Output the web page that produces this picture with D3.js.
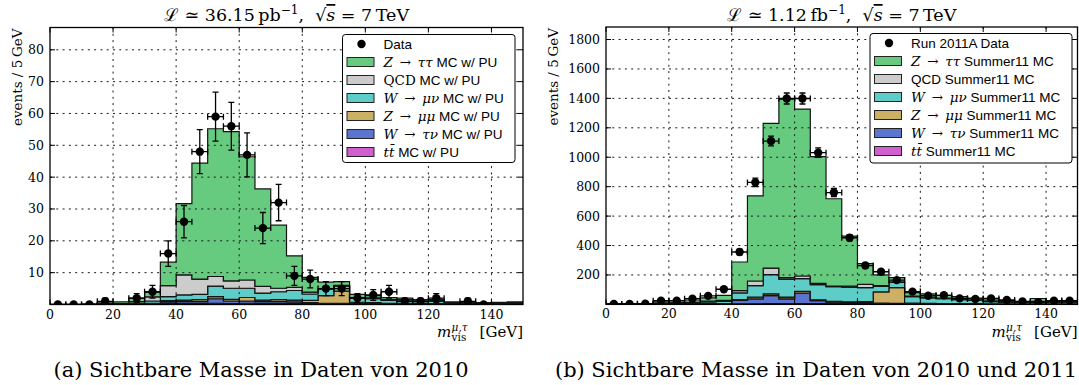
<!DOCTYPE html>
<html lang="de">
<head>
<meta charset="UTF-8">
<title>Sichtbare Masse m_vis</title>
<script src="https://d3js.org/d3.v7.min.js"></script>
<style>
  body { margin: 0; background: #fff; }
  svg { display: block; }
  text { font-family: "DejaVu Serif", serif; fill: #000; }
  .sans { font-family: "Liberation Sans", Arial, sans-serif; }
  .grid line { stroke: #1a1a1a; stroke-width: 1; stroke-dasharray: 2 4.3; }
  .frame { fill: none; stroke: #000; stroke-width: 1.3; }
  .layer { stroke: #141414; stroke-width: 1.2; }
  .err { stroke: #000; stroke-width: 1.3; fill: none; }
</style>
</head>
<body>
<svg width="1079" height="385"></svg>
<script>
// 5 GeV bins from 0 to 150
const binEdges = d3.range(0, 155, 5);
const xTicks = [0, 20, 40, 60, 80, 100, 120, 140];

// ---- 2010 (36.15 pb^-1) ----
const yTicks2010 = [10, 20, 30, 40, 50, 60, 70, 80];
const data2010 = [0, 0, 0, 1, null, 2, 4, 16, 26, 48, 59, 56, 47, 24, 32, 9, 8, 5, 5, 2, 3, 4, 1, 1, 2, null, 1, 0, null, null];
const err2010  = [0, 0, 0, 1, null, 1.4, 2, 4, 5.1, 6.9, 7.7, 7.5, 6.9, 4.9, 5.7, 3, 2.8, 2.2, 2.2, 1.4, 1.7, 2, 1, 1, 1.4, null, 1, 0, null, null];
const ttbar2010  = [0, 0, 0, 0, 0, 0, 0.1, 0.3, 0.3, 0.3, 0.4, 0.3, 0.4, 0.3, 0.3, 0.3, 0.2, 0.2, 0.2, 0.1, 0.1, 0.1, 0.1, 0.1, 0.1, 0.1, 0.1, 0.1, 0.1, 0.1];
const wtaunu2010 = [0, 0, 0, 0, 0, 0, 0.1, 0.5, 0.6, 0.6, 1.4, 0.8, 0.7, 0.6, 0.6, 0.5, 0.4, 0.2, 0.2, 0.2, 0.2, 0.1, 0.1, 0.1, 0.1, 0.05, 0.05, 0.05, 0.05, 0.05];
const zmumu2010  = [0, 0, 0, 0, 0, 0.1, 0.2, 0.4, 0.5, 0.6, 0.7, 0.5, 1.1, 0.5, 0.6, 0.6, 0.7, 2.4, 3.8, 0.4, 0.3, 0.2, 0.2, 0.1, 0.1, 0.05, 0.05, 0.05, 0.05, 0.05];
const wmunu2010  = [0, 0, 0.05, 0.1, 0.2, 0.3, 0.7, 1.3, 1.6, 1.7, 3.3, 3.5, 2.9, 2.2, 2.5, 3.0, 2.0, 2.0, 1.6, 1.3, 1.2, 0.9, 0.7, 0.6, 0.7, 0.3, 0.3, 0.2, 0.25, 0.3];
const qcd2010    = [0, 0, 0, 0.1, 0.1, 0.5, 1.3, 3.4, 6.3, 4.8, 3.0, 2.3, 2.6, 2.1, 1.1, 1.0, 0.6, 0.2, 0.2, 0.2, 0.3, 0.3, 0.4, 0.2, 0.2, 0.1, 0.1, 0.05, 0.1, 0.1];
const ztautau2010 = [0.05, 0.05, 0.1, 0.3, 0.5, 1.1, 1.5, 7.4, 22.4, 36.4, 46.4, 46.9, 38.7, 30.6, 19.8, 9.9, 4.6, 2.0, 1.2, 1.0, 0.7, 0.6, 0.5, 0.4, 0.4, 0.2, 0.2, 0.15, 0.15, 0.2];
const legend2010 = ["Data", "$Z → ττ$ MC w/ PU", "$QCD$ MC w/ PU", "$W → μν$ MC w/ PU",
                    "$Z → μμ$ MC w/ PU", "$W → τν$ MC w/ PU", "$tt̄$ MC w/ PU"];

// ---- 2011A (1.12 fb^-1) ----
const yTicks2011 = [200, 400, 600, 800, 1000, 1200, 1400, 1600, 1800];
const data2011 = [3, 3, 5, 25, 25, 39, 58, 103, 356, 829, 1110, 1399, 1399, 1031, 760, 453, 264, 222, 165, 87, 59, 62, 41, 37, 40, 30, 20, 15, 25, 25];
const err2011  = [1.7, 1.7, 2.2, 5, 5, 6.2, 7.6, 10.1, 18.9, 28.8, 33.3, 37.4, 37.4, 32.1, 27.6, 21.3, 16.2, 14.9, 12.8, 9.3, 7.7, 7.9, 6.4, 6.1, 6.3, 5.5, 4.5, 3.9, 5, 5];
const ttbar2011  = [0, 0, 0, 0, 0, 0, 1, 1, 3, 4, 5, 5, 6, 5, 5, 4, 4, 3, 3, 1, 1, 1, 1, 1, 1, 1, 1, 1, 1, 1];
const wtaunu2011 = [0, 0, 0, 1, 1, 1, 2, 3, 25, 33, 55, 33, 70, 20, 10, 8, 7, 5, 4, 3, 3, 2, 2, 2, 1, 1, 1, 1, 1, 1];
const zmumu2011  = [0, 0, 0, 1, 1, 1, 2, 2, 5, 12, 12, 12, 12, 6, 6, 6, 8, 77, 107, 4, 3, 3, 2, 2, 1, 1, 1, 1, 1, 1];
const wmunu2011  = [1, 1, 2, 5, 7, 8, 12, 15, 45, 78, 130, 122, 87, 104, 99, 100, 95, 38, 35, 45, 38, 33, 28, 22, 16, 13, 10, 14, 10, 11];
const qcd2011    = [0, 0, 0, 2, 3, 4, 5, 6, 15, 32, 45, 10, 18, 8, 5, 6, 22, 5, 4, 4, 4, 3, 3, 2, 2, 1, 1, 3, 1, 1];
const ztautau2011 = [1, 2, 3, 9, 13, 16, 23, 35, 195, 579, 983, 1213, 1134, 861, 593, 340, 141, 72, 29, 23, 23, 20, 17, 13, 9, 8, 5, 20, 6, 7];
const legend2011 = ["Run 2011A Data", "$Z → ττ$ Summer11 MC", "QCD Summer11 MC", "$W → μν$ Summer11 MC",
                    "$Z → μμ$ Summer11 MC", "$W → τν$ Summer11 MC", "$tt̄$ Summer11 MC"];

const layerKeys = ["ttbar", "wtaunu", "zmumu", "wmunu", "qcd", "ztautau"];
const layerColors = { ztautau: "#66cb7f", qcd: "#cccccc", wmunu: "#5ecdc8",
                      zmumu: "#cbb066", wtaunu: "#5b74cd", ttbar: "#d05fcf" };

const svg = d3.select("svg");

function richText(sel, str) {
  // "$...$" = math: single letters italic, rest upright
  sel.attr("xml:space", "preserve").style("white-space", "pre");
  str.split("$").forEach((seg, k) => {
    if (!seg) return;
    if (k % 2 === 0) {
      sel.append("tspan").attr("class", "sans").style("font-size", "13.5px").text(seg);
    } else {
      seg.match(/[A-Z]{2,}|\s+|.\u0304?/gu).forEach(tok => {
        const ital = /^[A-Za-zα-ω]\u0304?$/.test(tok);
        sel.append("tspan").style("font-style", ital ? "italic" : "normal")
          .text(tok === " " ? "\u2002" : tok);
      });
    }
  });
}

function drawPanel(p) {
  const g = svg.append("g");
  const x = d3.scaleLinear().domain([0, 150]).range([p.left, p.right]);
  const y = d3.scaleLinear().domain([0, p.ymax]).range([p.bottom, p.top]);

  const clipId = "clip" + p.id;
  svg.append("clipPath").attr("id", clipId).append("rect")
    .attr("x", p.left).attr("y", p.top)
    .attr("width", p.right - p.left).attr("height", p.bottom - p.top);

  // stacked step histograms
  const rows = p.layers.ttbar.map((_, i) => {
    const r = {};
    layerKeys.forEach(k => r[k] = p.layers[k][i]);
    return r;
  });
  const stacked = d3.stack().keys(layerKeys)(rows);
  const area = d3.area()
    .x(d => x(d.e))
    .y0(d => y(d.v[0]))
    .y1(d => y(d.v[1]))
    .curve(d3.curveStepAfter);

  const hist = g.append("g").attr("clip-path", `url(#${clipId})`);
  stacked.forEach(s => {
    const pts = binEdges.map((e, i) => ({ e: e, v: s[Math.min(i, s.length - 1)] }));
    hist.append("path")
      .attr("class", "layer")
      .attr("fill", layerColors[s.key])
      .attr("d", area(pts) + "Z");
  });

  // grid
  const grid = g.append("g").attr("class", "grid");
  xTicks.filter(t => t > 0).forEach(t => {
    grid.append("line").attr("x1", x(t)).attr("x2", x(t)).attr("y1", p.top).attr("y2", p.bottom);
  });
  p.yTicks.forEach(t => {
    grid.append("line").attr("x1", p.left).attr("x2", p.right).attr("y1", y(t)).attr("y2", y(t));
  });

  // ticks (inward, all four sides)
  const ticks = g.append("g").attr("stroke", "#000").attr("stroke-width", 1);
  xTicks.forEach(t => {
    ticks.append("line").attr("x1", x(t)).attr("x2", x(t)).attr("y1", p.bottom).attr("y2", p.bottom - 5);
    ticks.append("line").attr("x1", x(t)).attr("x2", x(t)).attr("y1", p.top).attr("y2", p.top + 5);
    g.append("text").attr("x", x(t)).attr("y", p.bottom + 14)
      .attr("text-anchor", "middle").style("font-size", "12.5px").text(t);
  });
  p.yTicks.forEach(t => {
    ticks.append("line").attr("x1", p.left).attr("x2", p.left + 5).attr("y1", y(t)).attr("y2", y(t));
    ticks.append("line").attr("x1", p.right).attr("x2", p.right - 5).attr("y1", y(t)).attr("y2", y(t));
    g.append("text").attr("x", p.left - 6).attr("y", y(t) + 4.5)
      .attr("text-anchor", "end").style("font-size", "12.5px").text(t);
  });

  // data points with error bars
  const pts = g.append("g").attr("clip-path", `url(#${clipId})`);
  p.data.forEach((n, i) => {
    if (n === null) return;
    const cx = x(binEdges[i] + 2.5), cy = y(n);
    const e = p.err[i];
    const xl = x(binEdges[i]), xr = x(binEdges[i + 1]);
    pts.append("path").attr("class", "err")
      .attr("d", `M${xl},${cy}H${xr}M${xl},${cy - 3}V${cy + 3}M${xr},${cy - 3}V${cy + 3}`);
    if (e > 0) {
      const yt = y(n + e), yb = y(n - e);
      pts.append("path").attr("class", "err")
        .attr("d", `M${cx},${yt}V${yb}M${cx - 3},${yt}H${cx + 3}M${cx - 3},${yb}H${cx + 3}`);
    }
    pts.append("circle").attr("cx", cx).attr("cy", cy).attr("r", 4.2).attr("fill", "#000");
  });

  g.append("rect").attr("class", "frame")
    .attr("x", p.left).attr("y", p.top)
    .attr("width", p.right - p.left).attr("height", p.bottom - p.top);

  // title
  const cx = (p.left + p.right) / 2;
  const t = g.append("text").attr("x", cx).attr("y", 21).attr("text-anchor", "middle")
    .style("font-size", "17.5px").attr("xml:space", "preserve").style("white-space", "pre");
  t.append("tspan").text("ℒ ≃ " + p.lumi + "\u2009" + p.unit);
  t.append("tspan").attr("dy", -7).style("font-size", "12px").text("−1");
  t.append("tspan").attr("dy", 7).text(",  √");
  t.append("tspan").style("font-style", "italic").style("text-decoration", "overline").text("s");
  t.append("tspan").text(" = 7\u2009TeV");

  // y label (top aligned)
  g.append("text")
    .attr("transform", `translate(${p.ylabX},${p.top + 1}) rotate(-90)`)
    .attr("text-anchor", "end").style("font-size", "13.5px")
    .text("events / 5\u2009GeV");

  // x label (right aligned)
  const by = 337;
  const gev = g.append("text").attr("x", p.right).attr("y", by).attr("text-anchor", "end")
    .style("font-size", "15px").text("[GeV]");
  const scriptEnd = p.right - gev.node().getComputedTextLength() - 12;
  const sup = g.append("text").attr("x", scriptEnd).attr("y", by - 6).attr("text-anchor", "end")
    .style("font-size", "10.5px").style("font-style", "italic").text("μ,τ");
  const sub = g.append("text").attr("x", scriptEnd).attr("y", by + 4).attr("text-anchor", "end")
    .style("font-size", "10.5px").text("vis");
  const sw = Math.max(sup.node().getComputedTextLength(), sub.node().getComputedTextLength());
  sup.attr("text-anchor", "start").attr("x", scriptEnd - sw);
  sub.attr("text-anchor", "start").attr("x", scriptEnd - sw);
  g.append("text").attr("x", scriptEnd - sw - 0.5).attr("y", by).attr("text-anchor", "end")
    .style("font-size", "15px").style("font-style", "italic").text("m");

  // legend
  const L = p.legend;
  const lg = g.append("g");
  lg.append("rect").attr("x", L.x).attr("y", L.y).attr("width", L.w).attr("height", L.h)
    .attr("rx", 3).attr("fill", "#fff").attr("stroke", "#000").attr("stroke-width", 1);
  const order = ["data", "ztautau", "qcd", "wmunu", "zmumu", "wtaunu", "ttbar"];
  order.forEach((k, i) => {
    const ry = L.y + 9.5 + i * 18;
    if (k === "data") {
      lg.append("circle").attr("cx", L.x + 19).attr("cy", ry).attr("r", 4.2).attr("fill", "#000");
    } else {
      lg.append("rect").attr("x", L.x + 4.5).attr("y", ry - 4.5).attr("width", 27).attr("height", 9)
        .attr("fill", layerColors[k]).attr("stroke", "#222").attr("stroke-width", 1);
    }
    const tx = lg.append("text").attr("x", L.x + 41).attr("y", ry + 4.5).style("font-size", "13.5px");
    richText(tx, p.legendLabels[i]);
  });

  // caption
  g.append("text").attr("x", p.captionX).attr("y", 377).attr("text-anchor", "middle")
    .style("font-size", "19.5px")
    .attr("textLength", p.captionW).attr("lengthAdjust", "spacingAndGlyphs")
    .text(p.caption);
}

drawPanel({
  id: "a", left: 50, right: 523, top: 27.5, bottom: 304.5, ymax: 87,
  yTicks: yTicks2010, data: data2010, err: err2010,
  layers: { ttbar: ttbar2010, wtaunu: wtaunu2010, zmumu: zmumu2010, wmunu: wmunu2010, qcd: qcd2010, ztautau: ztautau2010 },
  legendLabels: legend2010, legend: { x: 342.5, y: 34.5, w: 172.5, h: 128 },
  lumi: "36.15", unit: "pb", ylabX: 22,
  caption: "(a) Sichtbare Masse in Daten von 2010", captionX: 261, captionW: 415
});

drawPanel({
  id: "b", left: 606, right: 1077.5, top: 27, bottom: 304.4, ymax: 1885,
  yTicks: yTicks2011, data: data2011, err: err2011,
  layers: { ttbar: ttbar2011, wtaunu: wtaunu2011, zmumu: zmumu2011, wmunu: wmunu2011, qcd: qcd2011, ztautau: ztautau2011 },
  legendLabels: legend2011, legend: { x: 870, y: 33.5, w: 202, h: 129.5 },
  lumi: "1.12", unit: "fb", ylabX: 558,
  caption: "(b) Sichtbare Masse in Daten von 2010 und 2011", captionX: 816, captionW: 522
});
</script>
</body>
</html>
